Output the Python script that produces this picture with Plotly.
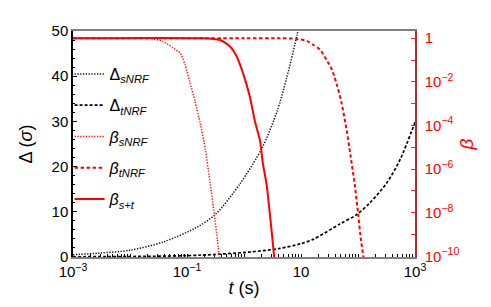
import plotly.graph_objects as go

# ---- data ----
# Delta_sNRF (black dotted, left axis)
t_ds = [0.001, 0.003, 0.01, 0.038, 0.15, 0.32, 0.85, 2.09, 3.8, 5.6, 8.5, 9.0]
delta_s = [0.5, 0.87, 1.5, 3.3, 6.6, 9.5, 16.2, 24.2, 32.2, 39.6, 49.0, 50.5]

# Delta_tNRF (black dashed, left axis)
t_dt = [0.001, 0.022, 0.17, 1.27, 4.27, 9.6, 16.4, 48, 95.5, 162, 320, 550, 1000]
delta_t = [0.05, 0.15, 0.4, 1.1, 1.9, 2.9, 3.9, 7.3, 9.4, 12.0, 16.4, 21.6, 29.8]

# beta_sNRF (red dotted, right axis)
t_bs = [0.001, 0.01, 0.022, 0.038, 0.056, 0.076, 0.092, 0.112, 0.138, 0.17, 0.21, 0.25, 0.295, 0.34, 0.37]
beta_s = [1, 1, 1, 7.1e-1, 3.7e-1, 2.1e-1, 6.3e-2, 1e-2, 1.3e-3, 1.3e-4, 7.9e-6, 3.2e-7, 1.3e-8, 6.3e-10, 7.9e-11]

# beta_tNRF (red dashed, right axis)
t_bt = [0.001, 1.0, 4.27, 8.4, 12.6, 16.4, 21.5, 28.2, 34.7, 42.3, 51.8, 63.1, 74.1, 88.5, 101, 112, 126]
beta_t = [1, 1, 1, 9.3e-1, 7.6e-1, 5e-1, 3e-1, 1e-1, 3.7e-2, 7.9e-3, 1e-3, 6.3e-5, 4e-6, 1.6e-7, 7.9e-9, 6.3e-10, 7.9e-11]

# beta_s+t (red solid, right axis)
t_bst = [0.001, 0.17, 0.38, 0.569, 0.741, 0.977, 1.27, 1.55, 1.91, 2.14, 2.51, 2.86, 3.16, 3.4]
beta_st = [1, 1, 8.3e-1, 4.2e-1, 1.5e-1, 2.2e-2, 2e-3, 1.6e-4, 2e-5, 1.9e-6, 1.7e-7, 7.4e-9, 5.8e-10, 7.9e-11]

# tick labels
x_major = [1e-3, 1e-1, 10, 1e3]
x_major_text = ["10<sup>\u22123</sup>", "10<sup>\u22121</sup>", "10", "10<sup>3</sup>"]
y2_ticks = [1e-10, 1e-9, 1e-8, 1e-7, 1e-6, 1e-5, 1e-4, 1e-3, 1e-2, 1e-1, 1]
y2_text = ["10<sup>\u221210</sup>", "", "10<sup>\u22128</sup>", "", "10<sup>\u22126</sup>", "",
           "10<sup>\u22124</sup>", "", "10<sup>\u22122</sup>", "", "1"]

# all x ticks (1..9 per decade), labels only at the majors
x_ticks = []
x_text = []
for e in range(-3, 3):
    for m in range(1, 10):
        v = m * 10.0 ** e
        x_ticks.append(v)
        x_text.append(x_major_text[x_major.index(v)] if v in x_major else "")
x_ticks.append(1e3)
x_text.append(x_major_text[-1])

fig = go.Figure()
fig.add_trace(go.Scatter(x=t_ds, y=delta_s, mode="lines", name="\u0394<sub><i>sNRF</i></sub>",
                         legendgroup="a",
                         line=dict(color="#111111", width=1.5, dash="1.3px,1.5px", shape="spline", smoothing=0.8)))
fig.add_trace(go.Scatter(x=t_dt, y=delta_t, mode="lines", name="\u0394<sub><i>tNRF</i></sub>",
                         legendgroup="b",
                         line=dict(color="black", width=1.7, dash="3px,2px", shape="spline", smoothing=0.8)))
fig.add_trace(go.Scatter(x=t_bs, y=beta_s, mode="lines", name="<i>\u03b2</i><sub><i>sNRF</i></sub>",
                         legendgroup="c", yaxis="y2",
                         line=dict(color="#ff1010", width=1.5, dash="1.3px,1.5px", shape="spline", smoothing=0.6)))
fig.add_trace(go.Scatter(x=t_bt, y=beta_t, mode="lines", name="<i>\u03b2</i><sub><i>tNRF</i></sub>",
                         legendgroup="d", yaxis="y2",
                         line=dict(color="#ff0000", width=2, dash="3.5px,2.5px", shape="spline", smoothing=0.6)))
fig.add_trace(go.Scatter(x=t_bst, y=beta_st, mode="lines", name="<i>\u03b2</i><sub><i>s+t</i></sub>",
                         legendgroup="e", yaxis="y2",
                         line=dict(color="#ff0000", width=2, shape="spline", smoothing=0.6)))

fig.update_layout(
    width=491, height=307,
    margin=dict(l=73, r=76, t=31, b=47),
    paper_bgcolor="white", plot_bgcolor="white",
    font=dict(family="Liberation Sans, Arial, sans-serif", size=14, color="black"),
    xaxis=dict(type="log", range=[-3, 3], tickvals=x_ticks, ticktext=x_text,
               ticks="inside", ticklen=3, tickcolor="black", tickwidth=1,
               showline=True, linecolor="#808080", linewidth=2, mirror=True,
               showgrid=False, zeroline=False, tickfont=dict(size=15),
               title=dict(text="<i>t</i> (s)", font=dict(size=18), standoff=2)),
    yaxis=dict(range=[0, 50], tickvals=[0, 10, 20, 30, 40, 50],
               ticks="inside", ticklen=4, tickcolor="black",
               minor=dict(dtick=2, ticks="inside", ticklen=2, tickcolor="black"),
               showline=True, linecolor="black", linewidth=1.5,
               showgrid=False, zeroline=False, tickfont=dict(size=15),
               title=dict(text="\u0394 (<i>\u03c3</i>)", font=dict(size=18), standoff=14)),
    yaxis2=dict(type="log", overlaying="y", side="right", range=[-10.03, 0.33],
                tickvals=y2_ticks, ticktext=y2_text,
                ticks="inside", ticklen=4, tickcolor="#ff2020",
                ticklabelstandoff=5,
                showline=True, linecolor="#b03030", linewidth=1.5,
                showgrid=False, zeroline=False,
                tickfont=dict(size=15, color="#ff0000"),
                title=dict(text="<i>\u03b2</i>", font=dict(size=19, color="#ff0000"), standoff=1)),
    legend=dict(x=-0.01, y=0.885, xanchor="left", yanchor="top",
                bgcolor="rgba(0,0,0,0)", font=dict(size=16), tracegroupgap=7.5),
    showlegend=True,
)

# remove the browser's default 8px page margin so the figure sits at the window's corner
fig.write_html("out.html",
               config={"displayModeBar": False},
               post_script="document.body.style.margin='0';document.body.style.overflow='hidden';")
